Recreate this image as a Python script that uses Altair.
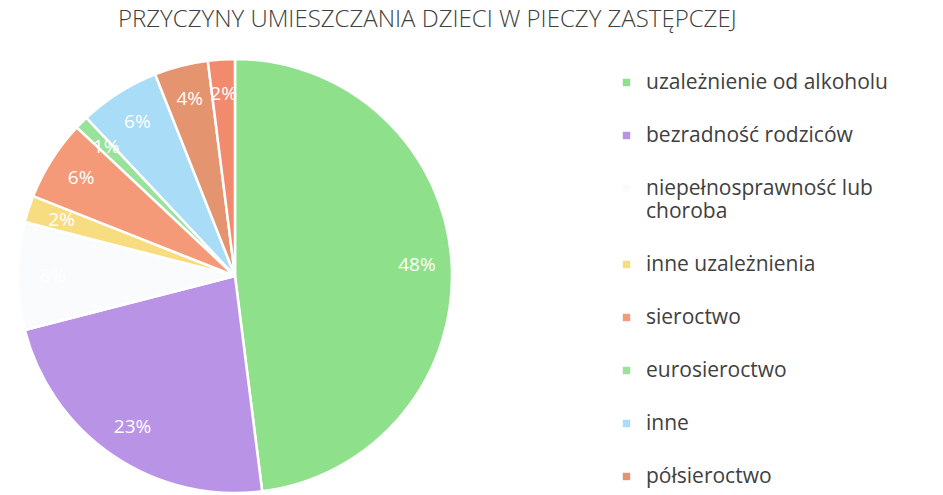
import altair as alt
import pandas as pd

categories = [
    "uzależnienie od alkoholu",
    "bezradność rodziców",
    "niepełnosprawność lub choroba",
    "inne uzależnienia",
    "sieroctwo",
    "eurosieroctwo",
    "inne",
    "półsieroctwo",
    "pozostałe",
]
values = [48, 23, 8, 2, 6, 1, 6, 4, 2]
labels = ["48%", "23%", "8%", "2%", "6%", "1%", "6%", "4%", "2%"]
colors = ["#8fe08a", "#b994e6", "#fafbfd", "#f7dd80", "#f59a78",
          "#98e29a", "#a8dcf7", "#e4946e", "#f28b6e"]
legend_items = categories[:8]

df = pd.DataFrame({"kat": categories, "val": values, "lab": labels,
                   "ord": list(range(len(categories)))})

CX, CY, R = 227, 259, 217

base = alt.Chart(df).encode(
    theta=alt.Theta("val:Q", stack=True),
    order=alt.Order("ord:Q"),
)

pie = base.mark_arc(radius=R, stroke="white", strokeWidth=2.5).encode(
    x=alt.value(CX), y=alt.value(CY),
    color=alt.Color(
        "kat:N",
        scale=alt.Scale(domain=categories, range=colors),
        sort=categories,
        legend=alt.Legend(
            title=None, orient="none", legendX=608, legendY=55,
            values=legend_items, symbolType="square", symbolSize=55,
            symbolStrokeWidth=0, labelFont="Open Sans", labelFontSize=21,
            labelColor="#404040", labelLimit=400, rowPadding=31,
            labelExpr="datum.label == 'niepełnosprawność lub choroba' ? ['niepełnosprawność lub', 'choroba'] : datum.label",
            labelBaseline="middle", labelOffset=9, padding=0,
        ),
    ),
)

text = base.mark_text(radius=R * 0.84, font="Open Sans", fontSize=19,
                      color="white").encode(
    x=alt.value(CX), y=alt.value(CY), text="lab:N"
)

chart = alt.layer(pie, text).properties(
    width=927, height=470,
    title=alt.TitleParams(
        "PRZYCZYNY UMIESZCZANIA DZIECI W PIECZY ZASTĘPCZEJ",
        font="Open Sans", fontSize=24, fontWeight=300, color="#404040",
        anchor="start", offset=0, dx=110, dy=15,
    ),
    padding=0,
).configure_view(stroke=None)

chart.save("out.html", embed_options={"renderer": "svg", "actions": False})
